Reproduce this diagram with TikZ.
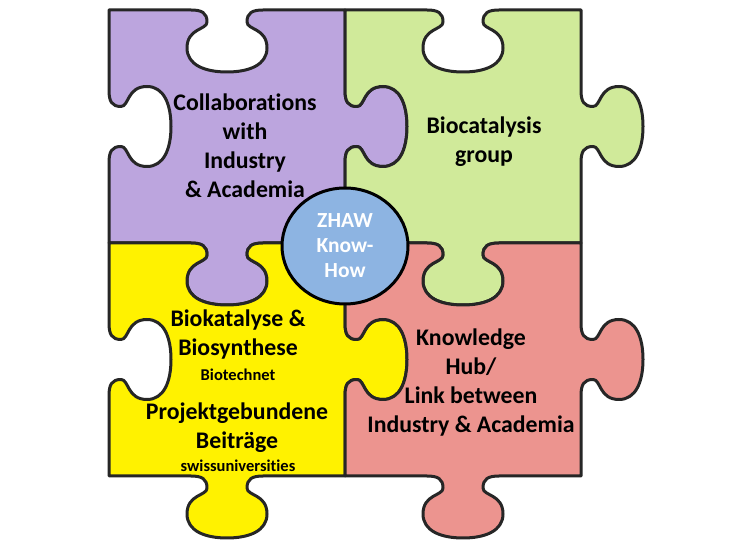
\documentclass[tikz,border=0pt]{standalone}
\usepackage{fontspec}
\setmainfont{Carlito}[Ligatures=NoCommon]
\usetikzlibrary{shapes.geometric}
\definecolor{lilac}{HTML}{BCA5DE}
\definecolor{lime}{HTML}{D0EA9A}
\definecolor{salmon}{HTML}{EC948F}
\definecolor{hubblue}{HTML}{8DB4E2}
\definecolor{edgegray}{HTML}{262626}
\tikzset{
    piece/.style={draw=edgegray, line width=1.5pt, line join=round},
    words/.style={align=center, inner sep=0pt, font=\bfseries\fontsize{11.9}{14.5}\selectfont},
    credit/.style={inner sep=0pt, font=\bfseries\fontsize{8.25}{10}\selectfont},
    hub/.style={ellipse, draw=black, line width=1.5pt, fill=hubblue, minimum width=63pt,
        minimum height=58pt, inner sep=0pt, align=center, text=white,
        font=\bfseries\fontsize{10.75}{12.5}\selectfont}
}
% one knob: edge along +x, bulging towards +y
\newcommand{\knob}{-- (-36,0) .. controls (-25,0) and (-20,3) .. (-20,12)
    .. controls (-20,20) and (-40,18) .. (-40,38)
    .. controls (-40,55) and (-22,62) .. (0,62)
    .. controls (22,62) and (40,55) .. (40,38)
    .. controls (40,18) and (20,20) .. (20,12)
    .. controls (20,3) and (25,0) .. (36,0)}
% #1 centre of the side, #2 angle, #3 = 1 for a hole, -1 for a tab
\newcommand{\side}[3]{{[shift={#1}, rotate=#2, yscale=#3] \knob}}

\begin{document}
\begin{tikzpicture}[x=0.5pt, y=-0.5pt]
    \fill[white] (0,0) rectangle (749,544);
    \useasboundingbox (0,0) rectangle (749,544);
    % the four pieces, all cut the same way
    \foreach \dx/\dy/\col in {109/10/lilac, 345/10/lime, 109/243/yellow, 345/243/salmon}{
        \draw[piece, fill=\col, shift={(\dx,\dy)}] (0,0) \side{(118,0)}{0}{1} -- (236,0)
            \side{(236,116.5)}{270}{-1} -- (236,233)
            \side{(118,233)}{180}{-1} -- (0,233)
            \side{(0,116.5)}{90}{1} -- cycle;
    }
    % texts on the pieces
    \node[words] (collab) at (245,146) {Collaborations\\with\\Industry\\\& Academia};
    \node[words] (group) at (484,142) {Biocatalysis\\group};
    \node[words] (biosyn) at (238,335) {Biokatalyse \&\\Biosynthese};
    \node[credit] (biotech) at (238,375) {Biotechnet};
    \node[words] (funds) at (237,428) {Projektgebundene\\Beiträge};
    \node[credit] (swiss) at (238,466) {swissuniversities};
    \node[words] (knowhub) at (471,383) {Knowledge\\Hub/\\Link between\\Industry \& Academia};
    % centre of the puzzle
    \node[hub] (zhaw) at (345,246) {ZHAW\\Know-\\How};
\end{tikzpicture}
\end{document}
